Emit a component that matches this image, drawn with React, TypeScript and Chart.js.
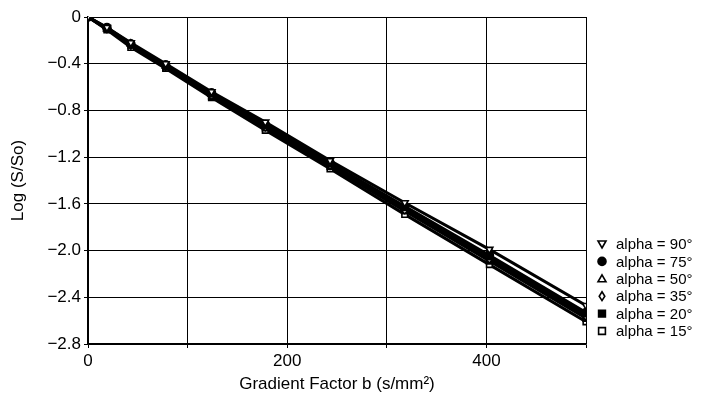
import React, { useEffect, useRef } from "react";
import { Chart, registerables } from "chart.js";

Chart.register(...registerables);

const bValues = [0, 19, 43, 78, 124, 178, 243, 318, 403, 500];
const alpha90 = [0, -0.09, -0.22, -0.4, -0.64, -0.9, -1.23, -1.59, -1.99, -2.47];
const alpha75 = [0, -0.09, -0.23, -0.41, -0.65, -0.92, -1.25, -1.62, -2.04, -2.53];
const alpha50 = [0, -0.1, -0.23, -0.42, -0.66, -0.93, -1.26, -1.64, -2.06, -2.55];
const alpha35 = [0, -0.1, -0.24, -0.42, -0.67, -0.94, -1.27, -1.65, -2.07, -2.56];
const alpha20 = [0, -0.1, -0.24, -0.43, -0.68, -0.95, -1.28, -1.66, -2.09, -2.58];
const alpha15 = [0, -0.11, -0.26, -0.44, -0.69, -0.97, -1.3, -1.69, -2.12, -2.61];

const seriesLabels = ["alpha = 90°", "alpha = 75°", "alpha = 50°", "alpha = 35°", "alpha = 20°", "alpha = 15°"];
const seriesValues = [alpha90, alpha75, alpha50, alpha35, alpha20, alpha15];
const markerStyles = ["triangleDown", "circle", "triangle", "diamond", "rect", "rect"];
const markerFilled = [false, true, false, false, true, false];

const xTickLabels = [0, 200, 400];
const FONT = "'Liberation Sans', Arial, Helvetica, sans-serif";

function pointStyleFor(s: string) {
  if (s === "triangleDown") return "triangle";
  if (s === "diamond") return "rectRot";
  return s;
}

function drawMarker(ctx: CanvasRenderingContext2D, style: string, x: number, y: number, r: number, filled: boolean) {
  ctx.save();
  ctx.beginPath();
  if (style === "circle") {
    ctx.arc(x, y, r, 0, Math.PI * 2);
  } else if (style === "rect") {
    ctx.rect(x - r * 0.85, y - r * 0.85, r * 1.7, r * 1.7);
  } else if (style === "triangle") {
    ctx.moveTo(x, y - r);
    ctx.lineTo(x + r, y + r * 0.75);
    ctx.lineTo(x - r, y + r * 0.75);
    ctx.closePath();
  } else if (style === "triangleDown") {
    ctx.moveTo(x, y + r);
    ctx.lineTo(x + r, y - r * 0.75);
    ctx.lineTo(x - r, y - r * 0.75);
    ctx.closePath();
  } else if (style === "diamond") {
    ctx.moveTo(x, y - r * 1.1);
    ctx.lineTo(x + r * 0.7, y);
    ctx.lineTo(x, y + r * 1.1);
    ctx.lineTo(x - r * 0.7, y);
    ctx.closePath();
  }
  ctx.fillStyle = filled ? "#000" : "#fff";
  ctx.fill();
  ctx.lineWidth = 1.6;
  ctx.strokeStyle = "#000";
  ctx.stroke();
  ctx.restore();
}

const legendPlugin = {
  id: "sideLegend",
  afterDraw(chart: any) {
    const ctx = chart.ctx as CanvasRenderingContext2D;
    const x0 = 602;
    const y0 = 244;
    const step = 17.4;
    ctx.save();
    ctx.font = `15px ${FONT}`;
    ctx.fillStyle = "#000";
    ctx.textBaseline = "middle";
    ctx.textAlign = "left";
    seriesLabels.forEach((lab, i) => {
      const y = y0 + i * step;
      drawMarker(ctx, markerStyles[i], x0, y, 4, markerFilled[i]);
      ctx.fillText(lab, x0 + 14, y + 1);
    });
    ctx.restore();
  },
};

function fmtY(v: number) {
  if (Math.abs(v) < 1e-9) return "0";
  return "\u2212" + Math.abs(v).toFixed(1);
}

export default function App() {
  const ref = useRef<HTMLCanvasElement | null>(null);
  useEffect(() => {
    if (!ref.current) return;
    const datasets = seriesValues.map((vals, i) => ({
      label: seriesLabels[i],
      data: vals.map((v, j) => ({ x: bValues[j], y: v })),
      borderColor: "#000",
      borderWidth: 3,
      pointStyle: pointStyleFor(markerStyles[i]),
      rotation: markerStyles[i] === "triangleDown" ? 180 : 0,
      pointRadius: 4,
      pointBackgroundColor: markerFilled[i] ? "#000" : "#fff",
      pointBorderColor: "#000",
      pointBorderWidth: 1.6,
      tension: 0,
    }));
    const chart = new Chart(ref.current, {
      type: "line",
      data: { datasets },
      options: {
        animation: false,
        responsive: false,
        maintainAspectRatio: false,
        layout: { padding: { top: 17, right: 118, left: 0, bottom: 0 } },
        plugins: { legend: { display: false }, tooltip: { enabled: false } },
        scales: {
          x: {
            type: "linear",
            min: 0,
            max: 500,
            afterFit: (s: any) => {
              s.height = 59;
            },
            ticks: {
              stepSize: 100,
              color: "#000",
              padding: 3,
              font: { family: FONT, size: 17 },
              maxRotation: 0,
              callback: (v: any) => (xTickLabels.includes(Number(v)) ? String(v) : ""),
            },
            grid: { color: "#000", lineWidth: 1, tickLength: 4 },
            border: { color: "#000", width: 1.5 },
            title: {
              display: true,
              text: "Gradient Factor b (s/mm\u00B2)",
              color: "#000",
              font: { family: FONT, size: 17 },
              padding: { top: 0, bottom: 8 },
            },
          },
          y: {
            type: "linear",
            min: -2.8,
            max: 0,
            afterFit: (s: any) => {
              s.width = 88;
            },
            ticks: {
              stepSize: 0.4,
              color: "#000",
              padding: 3,
              font: { family: FONT, size: 17 },
              callback: (v: any) => fmtY(Number(v)),
            },
            grid: { color: "#000", lineWidth: 1, tickLength: 4 },
            border: { color: "#000", width: 1.5 },
            title: {
              display: true,
              text: "Log (S/So)",
              color: "#000",
              font: { family: FONT, size: 17 },
              padding: { top: 8, bottom: 0 },
            },
          },
        },
      },
      plugins: [legendPlugin],
    });
    return () => chart.destroy();
  }, []);
  return (
    <div style={{ position: "absolute", left: 0, top: 0, width: 704, height: 403, background: "#fff" }}>
      <canvas ref={ref} width={704} height={403} style={{ display: "block", width: 704, height: 403 }} />
    </div>
  );
}
